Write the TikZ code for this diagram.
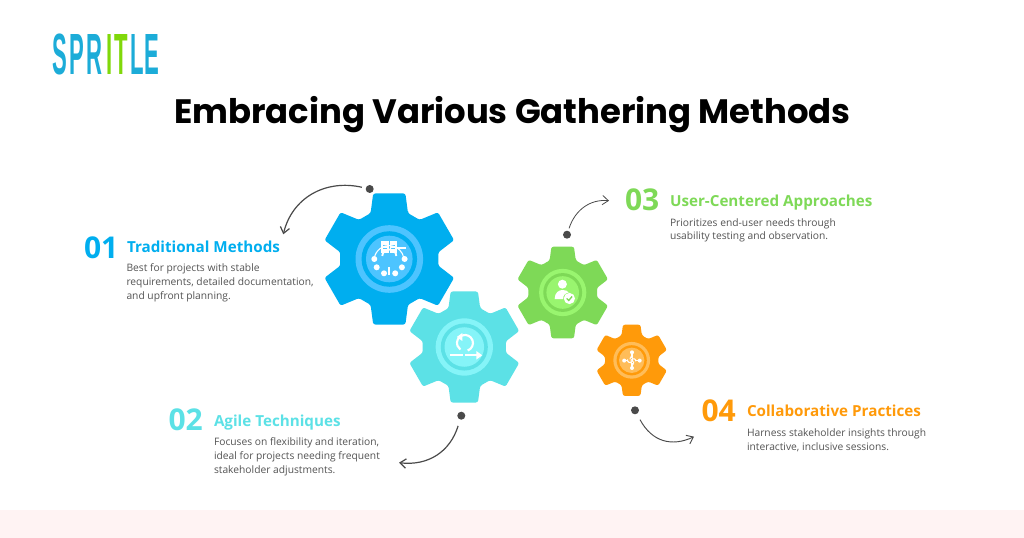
\documentclass[tikz,border=0pt]{standalone}
\usepackage{fontspec}
\setmainfont{Open Sans}
\newfontfamily\titlefont{Poppins}
\newfontfamily\logofont{Liberation Sans}
\usetikzlibrary{arrows.meta}
\definecolor{traditional}{HTML}{00AEEF}
\definecolor{traditionallight}{HTML}{4DC4FF}
\definecolor{agile}{HTML}{5CE1E6}
\definecolor{agilelight}{HTML}{85F4F8}
\definecolor{usercentered}{HTML}{7ED957}
\definecolor{usercenteredlight}{HTML}{99F56F}
\definecolor{collab}{HTML}{FF9A0A}
\definecolor{collablight}{HTML}{FFBD59}
\definecolor{logoblue}{HTML}{1CACD8}
\definecolor{logogreen}{HTML}{80D80A}
\definecolor{bodygrey}{HTML}{545454}
\definecolor{dotgrey}{HTML}{4A4A4A}
\definecolor{band}{HTML}{FFF3F3}
\tikzstyle{every node}=[inner sep=0pt, outer sep=0pt, anchor=base west]
\tikzstyle{number}=[font=\fontsize{22.5pt}{22.5pt}\selectfont\bfseries]
\tikzstyle{heading}=[font=\fontsize{11.4pt}{13pt}\selectfont\bfseries]
\tikzstyle{body}=[font=\fontsize{7.7pt}{10.4pt}\selectfont, text=bodygrey, align=left]
\tikzstyle{dot}=[circle, fill=dotgrey, minimum size=6pt, anchor=center]
\tikzstyle{flow}=[draw=dotgrey, line width=.9pt, -{Straight Barb[length=4.5pt,width=7pt]}]
\tikzstyle{logo}=[font=\logofont\fontsize{43.6pt}{44pt}\selectfont\bfseries, xscale=.38, anchor=base]
\tikzstyle{icon}=[draw=white, fill=none, line width=1.4pt]
% one cog, outer radius 1, in the colour given as #1
\tikzset{cog/.pic={
    \fill[#1, rounded corners=1.6pt] (67.8:.756)
        \foreach \a in {90,150,...,390}{
            -- ({\a-22.2}:.756) -- ({\a-13.8}:1.03) -- ({\a+13.8}:1.03) -- ({\a+22.2}:.756)
        } -- cycle;
}}
\begin{document}
\begin{tikzpicture}[x=.75pt, y=-.75pt]
    \useasboundingbox (0,0) rectangle (1024,538);
    \fill[white] (0,0) rectangle (1024,538);
    \fill[band] (0,510) rectangle (1024,538);

    % logo
    \node[logo, text=logoblue] (logoS) at (60,74.3) {S};
    \node[logo, text=logoblue] (logoP) at (77,74.3) {P};
    \node[logo, text=logoblue] (logoR) at (94.5,74.3) {R};
    \node[logo, text=logogreen] (logoI) at (109.3,74.3) {I};
    \node[logo, text=logogreen] (logoT) at (121,74.3) {T};
    \node[logo, text=logoblue] (logoL) at (137,74.3) {L};
    \node[logo, text=logoblue] (logoE) at (152.3,74.3) {E};

    % title
    \node[font=\titlefont\fontsize{25.4pt}{30pt}\selectfont\bfseries, anchor=base] (title) at (512.5,124)
        {Embracing Various Gathering Methods};

    % cogs
    \foreach \name/\cx/\cy/\r/\main/\light in {
        first/389.3/259/65.5/traditional/traditionallight,
        second/464.3/347/55.5/agile/agilelight,
        third/562.7/292.5/45.8/usercentered/usercenteredlight,
        fourth/631.7/360.3/35.6/collab/collablight}{
        \begin{scope}[shift={(\cx,\cy)}, x=\r*.75pt, y=\r*.75pt]
            \path pic {cog=\main};
            \fill[\light] (0,0) circle (.516);
            \fill[\main] (0,0) circle (.424);
            \fill[\light] (0,0) circle (.356);
        \end{scope}
    }

    % icon of the first cog
    \begin{scope}[shift={(389.3,259)}]
        \fill[white] (-8,-17.5) rectangle (8,-6);
        \draw[traditionallight, line width=.6pt] (0,-17.5) -- (0,-6) (-6,-14) -- (-2,-14) (-6,-11) -- (-2,-11) (2,-14) -- (6,-14) (2,-11) -- (6,-11);
        \draw[icon, line width=1.8pt] (8,-11) -- (17,-11);
        \draw[icon, line width=.8pt] (-15,-1) arc[start angle=190, end angle=350, radius=15];
        \draw[icon] (-7,-3) arc[start angle=180, end angle=360, x radius=7, y radius=6.5];
        \draw[icon, line width=1.6pt] (0,8) -- (0,16);
        \foreach \x/\y in {-15/0,-12.6/8.3,-5.3/14.3,5.9/14.3,12.6/8.3,15.3/0}
            \fill[white] (\x,\y) circle (3);
    \end{scope}

    % icon of the second cog
    \begin{scope}[shift={(464.3,347)}]
        \draw[icon, line width=1.6pt] (3.4,3.5) arc[start angle=70, end angle=-235, radius=8];
        \fill[white] (-2,-14) -- (-7.5,-10) -- (-2,-6) -- cycle;
        \draw[icon, line width=1.6pt] (-14,8.3) -- (-1,8.3);
        \draw[icon, line width=1.6pt] (1,8.3) -- (14,8.3);
        \fill[white] (12,4) -- (18,8.3) -- (12,12.6) -- cycle;
    \end{scope}

    % icon of the third cog
    \begin{scope}[shift={(562.7,292.5)}]
        \fill[white] (-.3,-8.3) circle (4.5);
        \fill[white] (-8,6.5) .. controls (-8,0) and (-4,-2.5) .. (0,-2.5) .. controls (3,-2.5) and (5,-1.5) .. (6,0) .. controls (2,1) and (0,3) .. (.5,6.5) -- cycle;
        \fill[white] (6.7,6) circle (5.6);
        \draw[usercentered, line width=1pt] (4,6) -- (6,8) -- (9.4,4);
    \end{scope}

    % icon of the fourth cog
    \begin{scope}[shift={(631.7,360.3)}]
        \draw[icon, line width=.8pt] (.3,-8) -- (.3,-3) (.3,3) -- (.3,8) (-7.5,.3) -- (-4,.3) (4,.3) -- (8,.3);
        \draw[icon, line width=.8pt, rounded corners=1pt] (-4,-1) -- (-4,2) -- (1,2) -- (1,-3.5) -- (-1.5,-3.5) -- (-1.5,-1);
        \draw[icon, line width=.8pt, rounded corners=1pt] (4,1) -- (4,-1.5) -- (-.5,-1.5) -- (-.5,4) -- (2,4) -- (2,1);
        \foreach \x/\y in {.3/-8,.3/7.7,-7.5/.3,8/.3}
            \fill[white] (\x,\y) circle (2);
    \end{scope}

    % dots
    \node[dot] (dot1) at (369.7,189) {};
    \node[dot] (dot2) at (461.3,415.7) {};
    \node[dot] (dot3) at (567,234.7) {};
    \node[dot] (dot4) at (635,410.3) {};
    \coordinate (tip1) at (283.3,234.3);
    \coordinate (tip2) at (399,462.7);
    \coordinate (tip3) at (609,200.7);
    \coordinate (tip4) at (694,436.7);
    \draw[flow, shorten <=6pt] (dot1.center) .. controls (325,179) and (292,198) .. (tip1);
    \draw[flow, shorten <=8pt] (dot2.center) .. controls (450,452) and (428,466) .. (tip2);
    \draw[flow, line width=.6pt, shorten <=5pt] (dot3.center) .. controls (575,210) and (590,199) .. (tip3);
    \draw[flow, line width=.7pt, shorten <=8pt] (dot4.center) .. controls (652,442) and (672,447) .. (tip4);

    % texts
    \node[number, text=traditional] (num1) at (84,259) {01};
    \node[heading, text=traditional] (head1) at (127,252.3) {Traditional Methods};
    \node[body] (body1) at (126.5,299.3) {Best for projects with stable\\requirements, detailed documentation,\\and upfront planning.};

    \node[number, text=agile] (num2) at (168.5,430) {02};
    \node[heading, text=agile] (head2) at (214,426) {Agile Techniques};
    \node[body] (body2) at (214,473) {Focuses on flexibility and iteration,\\ideal for projects needing frequent\\stakeholder adjustments.};

    \node[number, text=usercentered] (num3) at (625,210.5) {03};
    \node[heading, text=usercentered] (head3) at (670,206.7) {User-Centered Approaches};
    \node[body] (body3) at (670,240) {Prioritizes end-user needs through\\usability testing and observation.};

    \node[number, text=collab] (num4) at (701.5,421) {04};
    \node[heading, text=collab] (head4) at (747,416.7) {Collaborative Practices};
    \node[body] (body4) at (747,450.5) {Harness stakeholder insights through\\interactive, inclusive sessions.};
\end{tikzpicture}
\end{document}
